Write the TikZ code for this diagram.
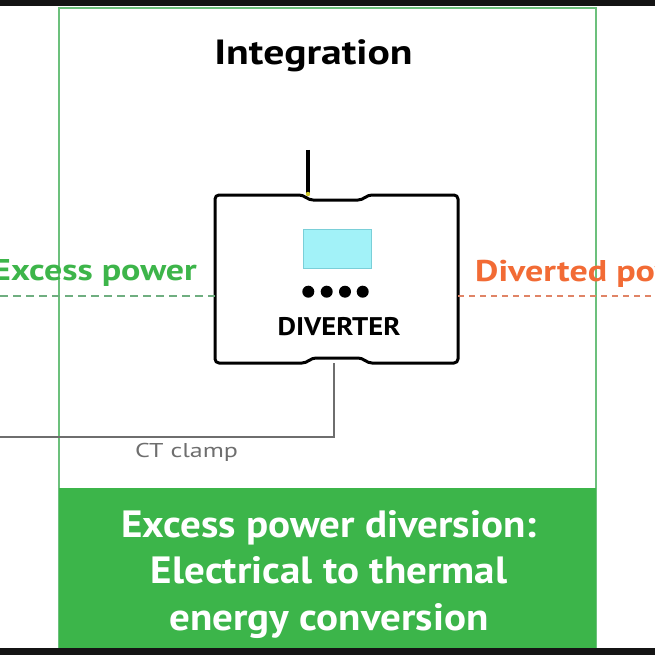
\documentclass[tikz,border=0pt]{standalone}
\usepackage{graphicx}
\usepackage{fontspec}
\setmainfont{PT Sans}
\newcommand{\hs}[2]{\scalebox{#1}[1]{#2}}
\definecolor{bargray}{HTML}{141414}
\definecolor{framegreen}{HTML}{6CC07C}
\definecolor{boxgreen}{HTML}{3CB54A}
\definecolor{txtgreen}{HTML}{3DB54A}
\definecolor{txtorange}{HTML}{F26B35}
\definecolor{dashgreen}{HTML}{6FAE80}
\definecolor{dashorange}{HTML}{E08466}
\definecolor{ctgray}{HTML}{6E6E6E}
\definecolor{screencyan}{HTML}{A2F2F8}
\definecolor{screenedge}{HTML}{7ACFD8}
\begin{document}
\begin{tikzpicture}[x=1pt,y=-1pt,
  devline/.style={draw=black,line width=3pt,line join=round},
  gdash/.style={draw=dashgreen,line width=2pt,dash pattern=on 8pt off 5pt},
  odash/.style={draw=dashorange,line width=2pt,dash pattern=on 6pt off 5pt},
  ctline/.style={draw=ctgray,line width=2.2pt},
  lbl/.style={inner sep=0pt,font=\bfseries\fontsize{30}{34}\selectfont}]
\useasboundingbox (0,0) rectangle (655,655);
\fill[white] (0,0) rectangle (655,655);
% frame
\draw[framegreen,line width=2.5pt] (59,8) rectangle (596,648);
\fill[boxgreen] (59,488) rectangle (596,648);
% black bars
\fill[bargray] (0,0) rectangle (655,6);
\fill[bargray] (0,648) rectangle (655,655);
% title
\node[inner sep=0pt,anchor=base,font=\bfseries\fontsize{35}{40}\selectfont] (title) at (313.5,65) {\hs{1.19}{Integration}};
% device
\node[inner sep=0pt,minimum width=243pt,minimum height=168pt] (div) at (336.5,279) {};
\draw[black,line width=4pt] (308,150) -- (308,194);
\fill[yellow!80!black] (308,194) circle (2.2);
\draw[devline,rounded corners=4] (215,195) -- (303,195) -- (309,200) -- (362,200) -- (368,195) -- (458,195) -- (458,363) -- (368,363) -- (362,358) -- (312,358) -- (306,363) -- (215,363) -- cycle;
\node[draw=screenedge,fill=screencyan,line width=1pt,minimum width=68pt,minimum height=39pt,inner sep=0pt] (screen) at (337,248.5) {};
\foreach \i/\xx in {1/308.3,2/326.7,3/345,4/362.7}
  \fill[black] (\xx,291.7) circle (6);
\node[inner sep=0pt,anchor=base,font=\bfseries\fontsize{25.5}{28}\selectfont] (divlbl) at (339,335) {\hs{1.12}{DIVERTER}};
% flows
\coordinate (exL) at (0,296);
\coordinate (dvR) at (655,296);
\draw[gdash] (exL) -- (div.west |- exL);
\draw[odash] (div.east |- dvR) -- (dvR);
\node[lbl,text=txtgreen,anchor=base east] (excess) at (197,280) {\hs{1.2}{Excess power}};
\node[lbl,text=txtorange,anchor=base west] (diverted) at (475,281) {\hs{1.2}{Diverted power}};
% CT clamp
\coordinate (ctTop) at (334,363);
\coordinate (ctL) at (0,437);
\draw[ctline] (ctTop) |- (ctL);
\node[inner sep=0pt,anchor=base,text=ctgray,font=\fontsize{20}{24}\selectfont] (ct) at (186.5,457) {\hs{1.3}{CT clamp}};
% bottom caption
\node[inner sep=0pt,anchor=base,text=white,font=\bfseries\fontsize{38}{46.5}\selectfont] (cap) at (329,537) {\hs{1.08}{\begin{tabular}[t]{@{}c@{}}Excess power diversion:\\Electrical to thermal\\energy conversion\end{tabular}}};
\end{tikzpicture}
\end{document}
